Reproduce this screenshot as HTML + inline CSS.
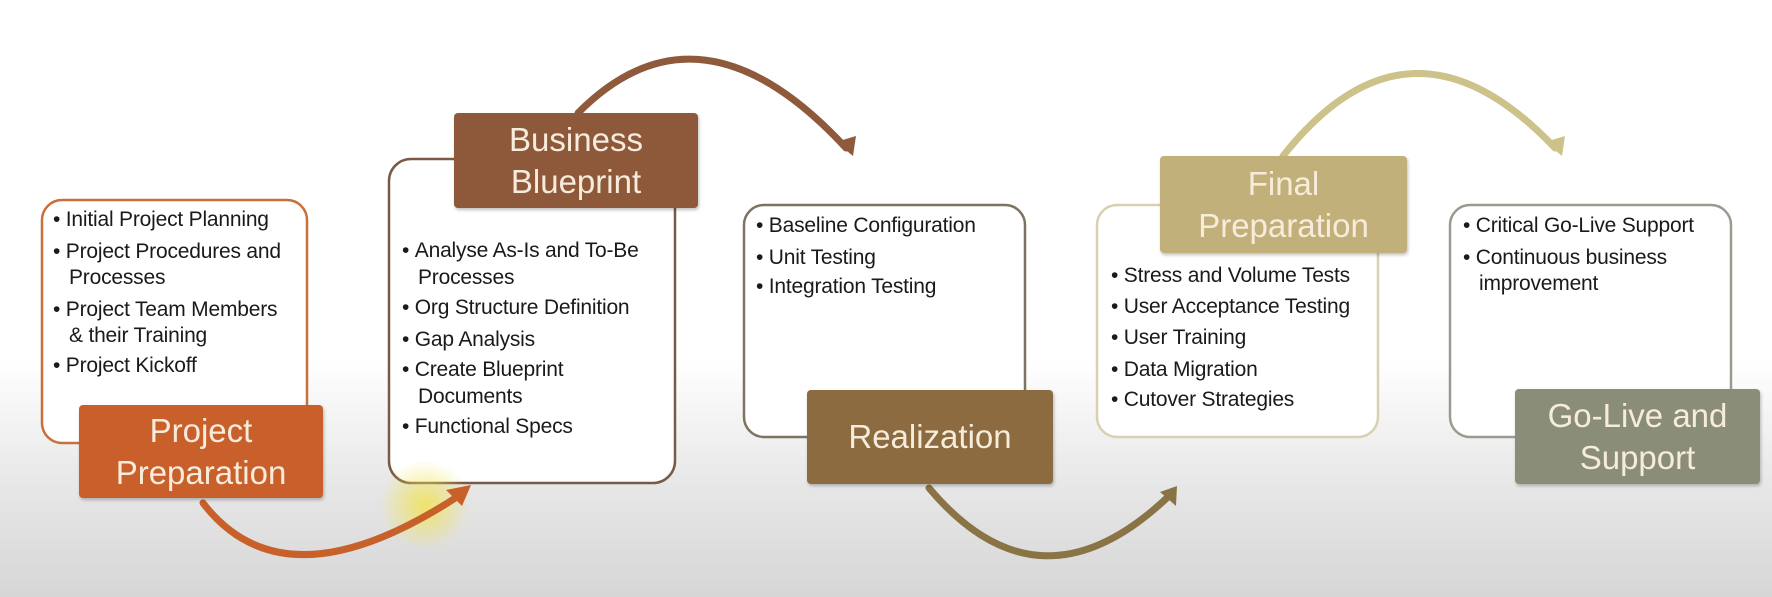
<!DOCTYPE html>
<html><head><meta charset="utf-8"><style>
html,body{margin:0;padding:0}
body{width:1772px;height:597px;position:relative;overflow:hidden;background:linear-gradient(#ffffff 0px,#ffffff 360px,#e8e8e8 480px,#d6d6d6 597px);font-family:"Liberation Sans",sans-serif}
.t{position:absolute;font-size:21px;color:#1a1a1a;line-height:24px;white-space:nowrap;letter-spacing:-0.2px}
.b{position:absolute;color:#f7ecdc;font-size:33px;line-height:42px;text-align:center;display:flex;align-items:center;justify-content:center;border-radius:4px;box-shadow:1px 2px 3px rgba(0,0,0,.25)}
</style></head><body>
<svg width="1772" height="597" style="position:absolute;left:0;top:0">
<defs>
<radialGradient id="hl"><stop offset="0" stop-color="#f2e24a" stop-opacity=".8"/><stop offset="1" stop-color="#f2e24a" stop-opacity="0"/></radialGradient>
</defs>
<rect x="42" y="200" width="265" height="243" rx="20" fill="#fff" stroke="#c8703a" stroke-width="2.5"/>
<rect x="389" y="159" width="286" height="324" rx="22" fill="#fff" stroke="#7a5a44" stroke-width="2.5"/>
<rect x="744" y="205" width="281" height="232" rx="20" fill="#fff" stroke="#7d7360" stroke-width="2.5"/>
<rect x="1097" y="205" width="281" height="232" rx="20" fill="#fff" stroke="#d8d0b0" stroke-width="2.5"/>
<rect x="1450" y="205" width="281" height="232" rx="20" fill="#fff" stroke="#9a9a90" stroke-width="2.5"/>
<circle cx="425" cy="505" r="45" fill="url(#hl)"/>
<g fill="none" stroke-width="7" stroke-linecap="round">
<path d="M203,503 Q285,610 460,495" stroke="#c8602a"/>
<path d="M578,113 Q700,-10 846,148" stroke="#8f5a3c"/>
<path d="M929,488 Q1040,620 1170,495" stroke="#8a7446"/>
<path d="M1283,156 Q1410,-5 1555,148" stroke="#cdc28a"/>
</g>
<polygon points="471,485 446,490 462,506" fill="#c8602a"/>
<polygon points="853,156 836,142 856,136" fill="#8f5a3c"/>
<polygon points="1177,486 1160,492 1176,506" fill="#8a7446"/>
<polygon points="1562,156 1545,142 1565,136" fill="#cdc28a"/>
</svg>
<div class="b" style="left:79px;top:405px;width:244px;height:93px;background:#c9602b">Project<br>Preparation</div>
<div class="b" style="left:454px;top:113px;width:244px;height:95px;background:#8e593b">Business<br>Blueprint</div>
<div class="b" style="left:807px;top:390px;width:246px;height:94px;background:#8b6b3f">Realization</div>
<div class="b" style="left:1160px;top:156px;width:247px;height:97px;background:#c2b07a">Final<br>Preparation</div>
<div class="b" style="left:1515px;top:389px;width:245px;height:95px;background:#8a8e78">Go-Live and<br>Support</div>

<div class="t" style="left:53px;top:208px">•&nbsp;Initial Project Planning</div>
<div class="t" style="left:53px;top:240px">•&nbsp;Project Procedures and</div>
<div class="t" style="left:69px;top:266px">Processes</div>
<div class="t" style="left:53px;top:298px">•&nbsp;Project Team Members</div>
<div class="t" style="left:69px;top:324px">&amp; their Training</div>
<div class="t" style="left:53px;top:354px">•&nbsp;Project Kickoff</div>

<div class="t" style="left:402px;top:239px">•&nbsp;Analyse As-Is and To-Be</div>
<div class="t" style="left:418px;top:266px">Processes</div>
<div class="t" style="left:402px;top:296px">•&nbsp;Org Structure Definition</div>
<div class="t" style="left:402px;top:328px">•&nbsp;Gap Analysis</div>
<div class="t" style="left:402px;top:358px">•&nbsp;Create Blueprint</div>
<div class="t" style="left:418px;top:385px">Documents</div>
<div class="t" style="left:402px;top:415px">•&nbsp;Functional Specs</div>

<div class="t" style="left:756px;top:214px">•&nbsp;Baseline Configuration</div>
<div class="t" style="left:756px;top:246px">•&nbsp;Unit Testing</div>
<div class="t" style="left:756px;top:275px">•&nbsp;Integration Testing</div>

<div class="t" style="left:1111px;top:264px">•&nbsp;Stress and Volume Tests</div>
<div class="t" style="left:1111px;top:295px">•&nbsp;User Acceptance Testing</div>
<div class="t" style="left:1111px;top:326px">•&nbsp;User Training</div>
<div class="t" style="left:1111px;top:358px">•&nbsp;Data Migration</div>
<div class="t" style="left:1111px;top:388px">•&nbsp;Cutover Strategies</div>

<div class="t" style="left:1463px;top:214px">•&nbsp;Critical Go-Live Support</div>
<div class="t" style="left:1463px;top:246px">•&nbsp;Continuous business</div>
<div class="t" style="left:1479px;top:272px">improvement</div>
</body></html>
